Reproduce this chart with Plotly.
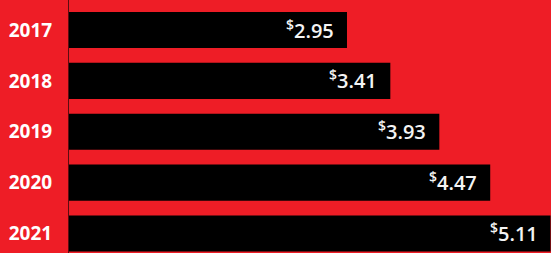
import plotly.graph_objects as go

years = ["2017", "2018", "2019", "2020", "2021"]
values = [2.95, 3.41, 3.93, 4.47, 5.11]
labels = ["<sup>$</sup>2.95", "<sup>$</sup>3.41", "<sup>$</sup>3.93", "<sup>$</sup>4.47", "<sup>$</sup>5.11"]

RED = "#ee1d26"

fig = go.Figure(go.Bar(
    x=values,
    y=years,
    orientation="h",
    marker=dict(color="#000000", line=dict(width=0)),
    width=0.71,
    hoverinfo="skip",
))

for i, (v, lab) in enumerate(zip(values, labels)):
    fig.add_annotation(
        x=v, y=i, xref="x", yref="y",
        text=lab, showarrow=False,
        xanchor="right", yanchor="middle", xshift=-11, yshift=1,
        font=dict(family="Open Sans", size=20, color="#f4f4f4", weight=600),
    )

fig.update_layout(
    width=551,
    height=253,
    margin=dict(l=69, r=0, t=0, b=0, autoexpand=False),
    paper_bgcolor=RED,
    plot_bgcolor=RED,
    showlegend=False,
)
fig.update_xaxes(
    range=[0, 5.115],
    showgrid=False,
    zeroline=False,
    showticklabels=False,
    ticks="",
    automargin=False,
)
fig.update_yaxes(
    type="category",
    range=[4.383, -0.59],
    showgrid=False,
    zeroline=False,
    showline=True,
    linecolor="#5a0c10",
    linewidth=1,
    ticks="",
    automargin=False,
    ticklabelstandoff=12,
    tickfont=dict(family="Open Sans", size=19, color="#ffffff", weight=700),
)

fig.write_html(
    "out.html",
    config={"displayModeBar": False},
    post_script="document.body.style.margin='0';document.body.style.overflow='hidden';",
)
